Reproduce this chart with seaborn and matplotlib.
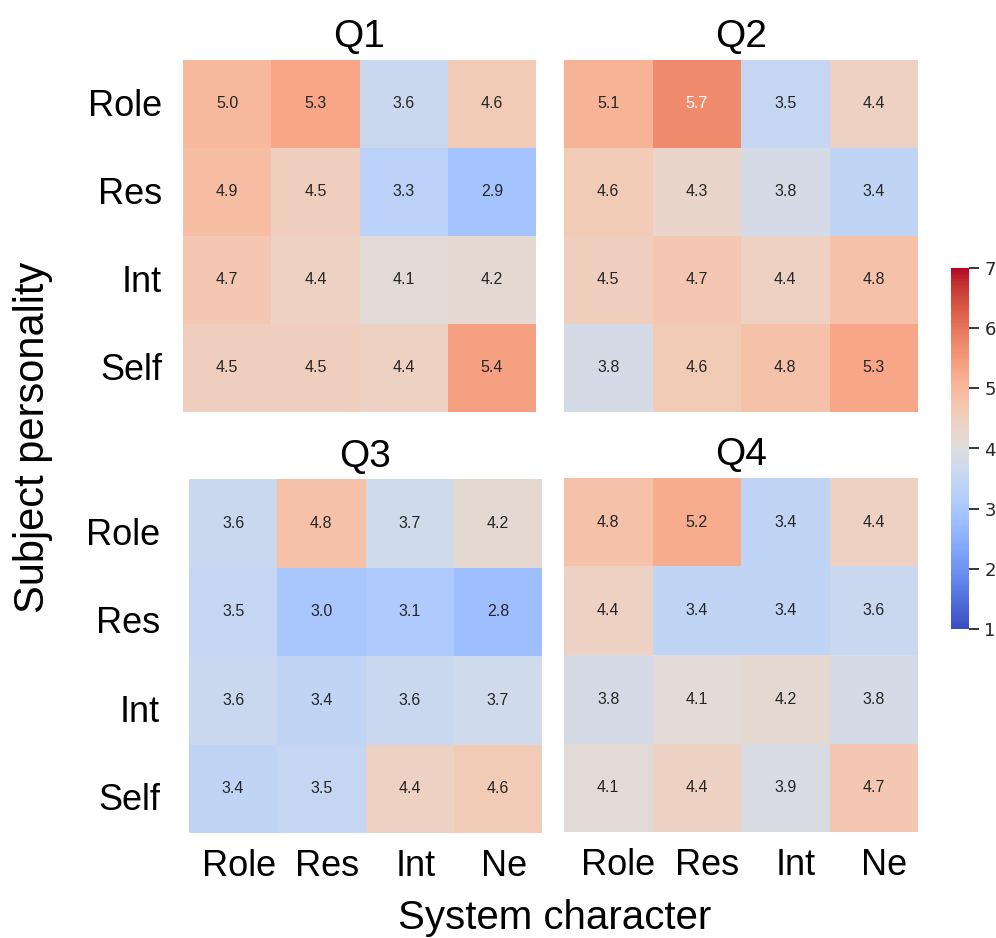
import numpy as np
import pandas as pd
import matplotlib
matplotlib.use("Agg")
import matplotlib.pyplot as plt
import matplotlib.transforms as mtransforms
import seaborn as sns

# Mean ratings: rows = subject personality, columns = system character
subject_labels = ["Role", "Res", "Int", "Self"]
system_labels = ["Role", "Res", "Int", "Ne"]
panel_titles = ["Q1", "Q2", "Q3", "Q4"]

q1_scores = [
    [5.0, 5.3, 3.6, 4.6],
    [4.9, 4.5, 3.3, 2.9],
    [4.7, 4.4, 4.1, 4.2],
    [4.5, 4.5, 4.4, 5.4],
]
q2_scores = [
    [5.1, 5.7, 3.5, 4.4],
    [4.6, 4.3, 3.8, 3.4],
    [4.5, 4.7, 4.4, 4.8],
    [3.8, 4.6, 4.8, 5.3],
]
q3_scores = [
    [3.6, 4.8, 3.7, 4.2],
    [3.5, 3.0, 3.1, 2.8],
    [3.6, 3.4, 3.6, 3.7],
    [3.4, 3.5, 4.4, 4.6],
]
q4_scores = [
    [4.8, 5.2, 3.4, 4.4],
    [4.4, 3.4, 3.4, 3.6],
    [3.8, 4.1, 4.2, 3.8],
    [4.1, 4.4, 3.9, 4.7],
]
colorbar_ticks = [1, 2, 3, 4, 5, 6, 7]

sns.set_theme(style="white")
plt.rcParams["font.family"] = ["Liberation Sans", "DejaVu Sans"]

W, H = 996, 938
fig = plt.figure(figsize=(W / 100, H / 100), dpi=100)


def px_axes(x0, y0, x1, y1):
    """Axes placed by pixel box (left, top, right, bottom)."""
    return fig.add_axes([x0 / W, 1 - y1 / H, (x1 - x0) / W, (y1 - y0) / H])


def nudge(labels, dx_px, dy_px):
    """Shift tick labels by a few pixels."""
    off = mtransforms.ScaledTranslation(dx_px / 100, dy_px / 100, fig.dpi_scale_trans)
    for lab in labels:
        lab.set_transform(lab.get_transform() + off)


boxes = [
    (183, 60, 536, 412),
    (564, 60, 918, 412),
    (189, 479, 542, 833),
    (564, 478, 918, 832),
]
cax = px_axes(951, 268, 969, 629)

panels = [q1_scores, q2_scores, q3_scores, q4_scores]
for i, (scores, title, box) in enumerate(zip(panels, panel_titles, boxes)):
    ax = px_axes(*box)
    df = pd.DataFrame(scores, index=subject_labels, columns=system_labels)
    sns.heatmap(
        df, ax=ax, cmap="coolwarm", vmin=1, vmax=7,
        annot=True, fmt=".1f", annot_kws={"size": 11.5},
        cbar=(i == 0), cbar_ax=cax if i == 0 else None,
        square=False,
    )
    ax.set_title(title, fontsize=28, pad=9, color="black")
    ax.set_xlabel("")
    ax.set_ylabel("")
    ax.tick_params(axis="both", length=0, pad=15, labelsize=26, colors="black")
    ax.tick_params(axis="x", pad=12)
    if i in (0, 2):
        ax.set_yticklabels(subject_labels, rotation=0)
    else:
        ax.set_yticks([])
    if i in (2, 3):
        ax.set_xticklabels(system_labels, rotation=0)
    else:
        ax.set_xticks([])
    if i == 0:
        nudge(ax.get_yticklabels(), 0, -2)
    if i == 2:
        nudge(ax.get_yticklabels(), -8, -12)
        nudge(ax.get_xticklabels(), 6, 1)
    if i == 3:
        nudge(ax.get_xticklabels(), 10, 1)

cax.tick_params(labelsize=13, length=7, width=1.3, color="#262626",
                labelcolor="#262626", right=True, pad=4)
cax.set_yticks(colorbar_ticks)
for lab in cax.get_yticklabels():
    lab.set_fontfamily("DejaVu Sans")

fig.text(555 / W, 1 - 918 / H, "System character", ha="center", va="center",
         fontsize=29, color="black")
fig.text(33 / W, 1 - 437 / H, "Subject personality", ha="center", va="center",
         rotation=90, fontsize=30, color="black")

fig.savefig("out.png", dpi=100)
